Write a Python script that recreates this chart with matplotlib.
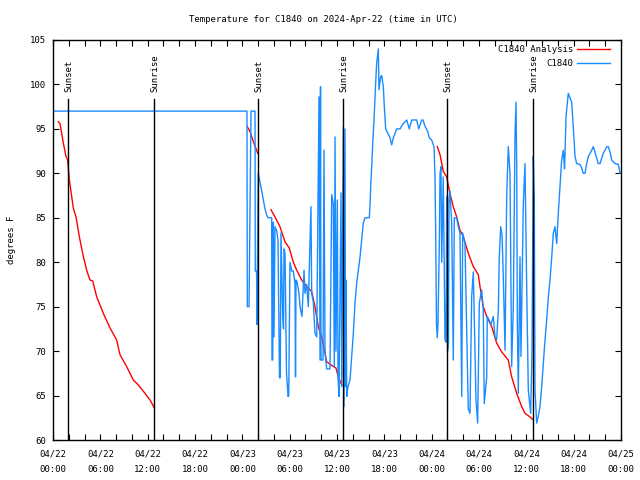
import numpy as np
import matplotlib
matplotlib.use("Agg")
import matplotlib.pyplot as plt
import matplotlib.dates as mdates
from matplotlib.lines import Line2D

plt.rcParams['font.family'] = ['DejaVu Sans Mono']
plt.rcParams['font.size'] = 6.5

# --- data: hours since 2024-04-22 00:00 UTC, temps in F ---
# analysis (red) comes in pieces
red1_hours = [0.67, 0.89, 1.31, 1.65, 1.86, 2.07, 2.37, 2.57, 2.92, 3.33, 3.76, 4.27, 4.69, 5.03,
              5.54, 6.38, 7.23, 7.73, 8.07, 8.49, 9.34, 10.18, 10.81, 11.66, 12.30, 12.80]
red1_temps = [95.8, 95.6, 93.4, 91.9, 91.5, 89.25, 87.4, 86.1, 85.1, 82.9, 81.0, 79.1, 78.0, 77.9,
              76.1, 74.25, 72.6, 71.8, 71.25, 69.6, 68.25, 66.75, 66.2, 65.25, 64.5, 63.7]
red2_hours = [24.63, 24.97, 25.39, 25.95]
red2_temps = [95.25, 94.7, 93.6, 92.25]
red3_hours = [27.63, 28.14, 28.77, 29.41, 29.95, 30.46, 30.89, 31.52, 32.16, 32.79, 33.21, 33.63,
              34.06, 34.48, 34.69, 35.33, 35.87, 36.16, 36.60]
red3_temps = [85.9, 85.1, 84.0, 82.3, 81.6, 80.0, 79.1, 78.0, 77.25, 76.7, 75.0, 72.75,
              71.6, 69.75, 68.8, 68.4, 68.1, 67.1, 66.2]
red4_hours = [48.71, 49.06, 49.47, 49.90, 50.32, 50.74, 51.17, 51.59, 52.01, 52.64, 53.28, 53.91,
              54.13, 54.54, 54.98, 55.61, 56.24, 56.88, 57.71, 58.14, 58.78, 59.41, 59.83, 60.46, 60.88]
red4_temps = [93.0, 92.1, 90.2, 89.6, 87.75, 86.25, 85.1, 83.6, 82.9, 81.0, 79.5, 78.6,
              77.25, 75.0, 73.9, 72.75, 70.9, 69.9, 69.0, 67.1, 65.25, 63.75, 63.0, 62.6, 62.25]

# station obs (blue)
obs_hours = [0.0, 24.59, 24.63, 24.85, 24.91, 25.10, 25.61, 25.64, 25.80, 25.86, 25.92, 26.02,
             26.24, 26.46, 26.66, 26.87, 27.09, 27.25, 27.72, 27.76, 27.85, 27.93, 28.01, 28.14,
             28.36, 28.52, 28.71, 28.81, 28.90, 29.12, 29.22, 29.28, 29.41, 29.60, 29.79, 29.88,
             30.04, 30.26, 30.46, 30.68, 30.74, 30.80, 30.93, 31.18, 31.31, 31.56, 31.82, 31.94,
             32.16, 32.36, 32.58, 32.70, 32.79, 33.00, 33.21, 33.43, 33.63, 33.72, 33.85, 33.91,
             33.97, 34.23, 34.35, 34.48, 34.69, 35.11, 35.33, 35.53, 35.66, 35.75, 35.87, 36.04,
             36.13, 36.25, 36.51, 36.60, 36.80, 36.89, 37.01, 37.08, 37.14, 37.23, 37.39, 37.65,
             37.86, 38.07, 38.28, 38.50, 38.92, 39.13, 39.33, 39.55, 40.09, 40.18, 40.27, 40.40,
             40.53, 40.69, 40.82, 40.94, 41.03, 41.24, 41.32, 41.54, 41.67, 41.87, 42.00, 42.17,
             42.43, 42.72, 42.93, 43.14, 43.57, 43.99, 44.40, 44.84, 45.16, 45.47, 46.10, 46.36,
             46.74, 46.90, 47.16, 47.50, 47.70, 48.00, 48.30, 48.42, 48.51, 48.57, 48.61, 48.71,
             48.80, 48.97, 49.06, 49.18, 49.27, 49.47, 49.69, 49.82, 49.91, 50.01, 50.13, 50.20,
             50.32, 50.54, 50.74, 50.87, 51.17, 51.38, 51.59, 51.81, 51.93, 52.22, 52.64, 52.86,
             53.07, 53.28, 53.62, 53.83, 54.04, 54.34, 54.54, 54.67, 54.98, 55.05, 55.27, 55.52,
             55.81, 56.03, 56.24, 56.45, 56.57, 56.75, 56.92, 57.08, 57.30, 57.51, 57.71, 57.93,
             58.14, 58.35, 58.56, 58.69, 58.78, 58.86, 58.98, 59.20, 59.32, 59.62, 59.83, 60.05,
             60.25, 60.55, 60.72, 60.88, 61.01, 61.10, 61.31, 61.48, 61.73, 61.95, 62.15, 62.37,
             62.58, 62.79, 63.00, 63.22, 63.42, 63.63, 63.85, 64.05, 64.27, 64.48, 64.69, 64.84,
             64.90, 65.03, 65.32, 65.54, 65.75, 65.95, 66.17, 66.38, 66.80, 67.01, 67.22, 67.44,
             67.65, 67.86, 68.29, 68.49, 68.70, 69.12, 69.34, 69.76, 70.19, 70.39, 70.61, 70.82,
             71.24, 71.66, 71.87, 72.00]
obs_temps = [97, 97, 75, 75, 80.6, 97, 97, 79, 79, 73, 81, 90,
             89, 88, 87, 86, 85.3, 85, 85, 69, 69, 84.5, 71.6, 84,
             83.5, 82.5, 67, 67, 83.3, 74, 72.5, 81.5, 81, 67.6, 64.9, 65,
             80, 79, 79, 77.6, 67.1, 78, 77.8, 76.5, 75, 73.9, 79.1, 76.5,
             77.5, 75, 82.3, 86.25, 76.5, 75.5, 72, 71.6, 90.75, 98.6, 69, 99.75,
             69, 69, 92.6, 70, 68, 68, 87.6, 86.6, 68.25, 94.1, 70, 87,
             67.1, 64.9, 87.8, 66, 95.2, 63.75, 95, 66, 78, 64.9, 66, 66.75,
             69.4, 72, 75.4, 77.7, 80.6, 82.5, 84.4, 85, 85, 86.25, 88.5, 90.75,
             93.4, 96, 98.6, 100.9, 102.4, 104, 99.4, 100.9, 101, 99.75, 97.5, 95,
             94.5, 94, 93.2, 94, 95, 95, 95.6, 96, 95, 96, 96, 95,
             96, 96, 95.3, 94.7, 94, 93.75, 93, 89.6, 83.3, 76.5, 73.1, 71.5,
             73, 82, 90, 90.75, 80, 89.6, 71.25, 71, 87.4, 70, 71, 87,
             88, 84.4, 69, 85, 85, 84, 83.3, 64.9, 83.3, 82.1, 63.5, 63,
             76.1, 78.9, 64.5, 61.9, 75.4, 76.9, 74.6, 64.1, 67.1, 73.9, 73.5, 73,
             73.9, 71.6, 71.3, 74.6, 80.6, 84, 83, 78.4, 70.1, 87.4, 93, 90,
             68.25, 75, 94.1, 98, 90.75, 73.1, 65.25, 80.6, 69.4, 86.6, 91.1, 76.9,
             65.6, 63, 70, 91.9, 87, 65.6, 61.9, 62.5, 63.75, 66, 68.6, 71.25,
             73.5, 76.1, 78, 80.6, 83.25, 84, 82.1, 85.5, 88.5, 91.5, 92.6, 90.5,
             92, 96.4, 99, 98.5, 98, 95.25, 91.9, 91.1, 91, 90.6, 90, 90,
             91.1, 91.9, 92.6, 93, 92.4, 91.1, 91.1, 92.25, 93, 93, 92.4, 91.5,
             91.1, 91, 90, 90]

sunset_hours = [1.93, 26.0, 49.97]
sunrise_hours = [12.83, 36.8, 60.87]

# --- plot ---
t0 = mdates.date2num(np.datetime64('2024-04-22T00:00'))

def to_x(h):
    return t0 + np.array(h) / 24.0

fig = plt.figure(figsize=(6.4, 4.8), dpi=100)
ax = fig.add_axes([53/640, 40/480, 568/640, 400/480])

red = '#ff0000'
blue = '#1a8cff'
for hrs, tmp in [(red1_hours, red1_temps), (red2_hours, red2_temps),
                 (red3_hours, red3_temps), (red4_hours, red4_temps)]:
    ax.plot(to_x(hrs), tmp, color=red, lw=1.0)
ax.plot(to_x(obs_hours), obs_temps, color=blue, lw=1.0)

# sunrise / sunset markers
for h in sunset_hours:
    ax.plot(to_x([h, h]), [60, 98.4], color='black', lw=1.0, zorder=5)
    ax.text(to_x(h) + 0.005, 99.2, 'Sunset', rotation=90, ha='center', va='bottom')
for h in sunrise_hours:
    ax.plot(to_x([h, h]), [60, 98.4], color='black', lw=1.0, zorder=5)
    ax.text(to_x(h) + 0.005, 99.2, 'Sunrise', rotation=90, ha='center', va='bottom')

ax.set_xlim(to_x(0), to_x(72))
ax.set_ylim(60, 105)
ax.xaxis.set_major_locator(mdates.HourLocator(byhour=[0, 6, 12, 18]))
ax.xaxis.set_minor_locator(mdates.HourLocator(byhour=range(0, 24, 2)))
ax.xaxis.set_major_formatter(mdates.DateFormatter('%m/%d\n%H:%M'))
ax.set_yticks(np.arange(60, 106, 5))
ax.tick_params(which='both', direction='in', top=True, right=True, length=4, width=0.8,
               labelsize=6.5)
ax.tick_params(axis='x', pad=7)
ax.tick_params(axis='y', pad=5)
for lab in ax.get_xticklabels():
    lab.set_linespacing(1.95)
for s in ax.spines.values():
    s.set_linewidth(1.0)

ax.set_ylabel('degrees F')
ax.yaxis.set_label_coords(-0.0655, 0.5)

fig.text(0.505, 0.960, 'Temperature for C1840 on 2024-Apr-22 (time in UTC)', ha='center', va='center')

handles = [Line2D([], [], color=red, lw=1.0), Line2D([], [], color=blue, lw=1.0)]
ax.legend(handles, ['C1840 Analysis', 'C1840'], loc='upper right', frameon=False,
          markerfirst=False, handlelength=3.6, handletextpad=0.5, labelspacing=0.55,
          borderaxespad=0.2, borderpad=0.4, fontsize=6.5,
          bbox_to_anchor=(0.99, 1.0))

fig.savefig('out.png', dpi=100)
